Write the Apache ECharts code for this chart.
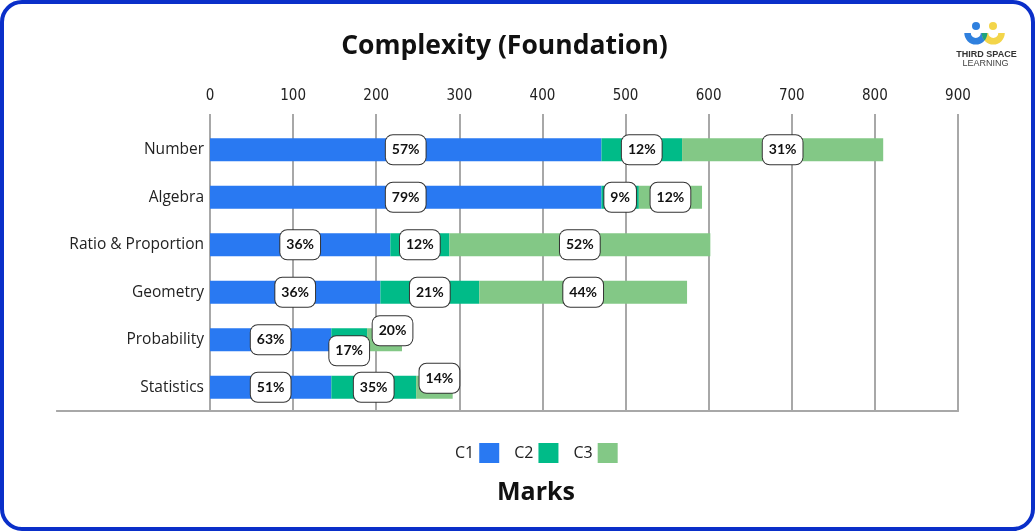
<!DOCTYPE html>
<html>
<head>
<meta charset="utf-8">
<script src="https://cdn.jsdelivr.net/npm/echarts@6/dist/echarts.min.js"></script>
<style>
html,body{margin:0;padding:0;background:#fff;}
#wrap{position:relative;width:1035px;height:531px;overflow:hidden;}
#chart{position:absolute;left:0;top:0;width:1035px;height:531px;}
#frame{position:absolute;left:0;top:0;width:1035px;height:531px;box-sizing:border-box;border:4px solid #0a2fc9;border-radius:22px;pointer-events:none;}
</style>
</head>
<body>
<div id="wrap"><div id="chart"></div><div id="frame"></div></div>
<script>
// ---- data ----
const categories = ['Number', 'Algebra', 'Ratio & Proportion', 'Geometry', 'Probability', 'Statistics'];
const seriesNames = ['C1', 'C2', 'C3'];
const c1Values = [471, 471, 217, 205, 146, 146];
const c2Values = [97, 45, 71, 119, 43, 102];
const c3Values = [242, 76, 314, 250, 42, 44];
const c1Pct = [57, 79, 36, 36, 63, 51];
const c2Pct = [12, 9, 12, 21, 17, 35];
const c3Pct = [31, 12, 52, 44, 20, 14];
const xMin = 0, xMax = 900, xInterval = 100;
const chartTitle = 'Complexity (Foundation)';
const axisTitle = 'Marks';

// ---- styling ----
const colors = ['#2979f2', '#00bb88', '#83c886'];
const gridColor = '#a8a8a8';
const font = '"Open Sans", Lato, "Noto Sans", sans-serif';
const labelFont = 'Lato, "Open Sans", sans-serif';
// label nudges for crowded segments: [category][series] = [dx, dy]
const labelNudge = { 4: { 1: [0, 11], 2: [8, -9] }, 5: { 2: [5, -9] } };

const valueSets = [c1Values, c2Values, c3Values];
const pctSets = [c1Pct, c2Pct, c3Pct];

const series = seriesNames.map((name, s) => ({
  name: name,
  type: 'bar',
  stack: 'total',
  xAxisIndex: 0,
  yAxisIndex: 0,
  barWidth: 23,
  itemStyle: { color: colors[s] },
  data: valueSets[s],
  label: {
    show: true,
    position: 'inside',
    formatter: (p) => pctSets[s][p.dataIndex] + '%',
    fontFamily: labelFont,
    fontWeight: 'bold',
    fontSize: 14,
    lineHeight: 17,
    color: '#111',
    backgroundColor: '#fff',
    borderColor: '#333',
    borderWidth: 1,
    borderRadius: 7,
    padding: [6, 6]
  },
  labelLayout: (p) => {
    const n = labelNudge[p.dataIndex] && labelNudge[p.dataIndex][s];
    return n ? { dx: n[0], dy: n[1], hideOverlap: false } : { hideOverlap: false };
  }
}));

// logo overlap lens (decoration)
function lensPoints() {
  const bx = 975.8, yx = 993.3, cy = 33, r = 11.5;
  const pts = [];
  const half = (yx - bx) / 2;
  const dy = Math.sqrt(r * r - half * half);
  const aY = Math.atan2(dy, -half);
  for (let k = 0; k <= 6; k++) {
    const a = Math.PI - (Math.PI - aY) * k / 6;
    pts.push([yx + r * Math.cos(a), cy + r * Math.sin(a)]);
  }
  const aB = Math.atan2(dy, half);
  for (let k = 0; k <= 6; k++) {
    const a = aB - aB * k / 6;
    pts.push([bx + r * Math.cos(a), cy + r * Math.sin(a)]);
  }
  return pts;
}

const option = {
  backgroundColor: '#fff',
  animation: false,
  legend: {
    data: seriesNames,
    left: 450,
    top: 438,
    align: 'right',
    itemWidth: 20,
    itemHeight: 20,
    itemGap: 15,
    icon: 'rect',
    textStyle: { fontFamily: font, fontSize: 16, color: '#222' }
  },
  grid: [
    { left: 210, right: 77, top: 126, bottom: 120, containLabel: false },
    { left: 57, right: 77, top: 114, bottom: 120, containLabel: false }
  ],
  xAxis: [
    {
      type: 'value', gridIndex: 0, position: 'top', offset: 12,
      min: xMin, max: xMax, interval: xInterval,
      axisLine: { show: false },
      axisTick: { show: true, inside: true, length: 12, lineStyle: { color: gridColor, width: 2 } },
      axisLabel: { margin: 10, fontFamily: '"Liberation Sans Narrow", "DejaVu Sans Condensed", sans-serif', fontSize: 15, color: '#222' },
      splitLine: { show: true, lineStyle: { color: gridColor, width: 2 } }
    },
    {
      type: 'value', gridIndex: 1, position: 'top', min: 0, max: 1,
      axisLine: { show: true, lineStyle: { color: gridColor, width: 2 } },
      axisTick: { show: false }, axisLabel: { show: false }, splitLine: { show: false }
    },
    {
      type: 'value', gridIndex: 1, position: 'bottom', min: 0, max: 1,
      axisLine: { show: true, lineStyle: { color: gridColor, width: 2 } },
      axisTick: { show: false }, axisLabel: { show: false }, splitLine: { show: false }
    }
  ],
  yAxis: [
    {
      type: 'category', gridIndex: 0, data: categories, inverse: true,
      axisLine: { show: false }, axisTick: { show: false },
      axisLabel: { margin: 6, fontFamily: font, fontSize: 15.5, color: '#222' }
    },
    { type: 'value', gridIndex: 1, show: false, min: 0, max: 1 }
  ],
  series: series,
  graphic: [
    { type: 'text', x: 504.5, y: 46, style: { text: chartTitle, fill: '#111', font: 'bold 26.5px ' + font, textAlign: 'center', textVerticalAlign: 'middle' } },
    { type: 'text', x: 536, y: 493, style: { text: axisTitle, fill: '#111', font: 'bold 25px ' + font, textAlign: 'center', textVerticalAlign: 'middle' } },
    // logo
    { type: 'sector', shape: { cx: 975.8, cy: 33, r: 11.5, r0: 5, startAngle: 0, endAngle: Math.PI, clockwise: true }, style: { fill: '#2f80de' } },
    { type: 'sector', shape: { cx: 993.3, cy: 33, r: 11.5, r0: 5, startAngle: 0, endAngle: Math.PI, clockwise: true }, style: { fill: '#f3d54a' } },
    { type: 'polygon', shape: { points: lensPoints() }, style: { fill: '#1ea37c' } },
    { type: 'circle', shape: { cx: 976, cy: 26, r: 4 }, style: { fill: '#2f80de' } },
    { type: 'circle', shape: { cx: 993, cy: 26, r: 4 }, style: { fill: '#f3d54a' } },
    { type: 'text', x: 986.5, y: 55, style: { text: 'THIRD SPACE', fill: '#333', font: 'bold 9px "Liberation Sans", sans-serif', textAlign: 'center', textVerticalAlign: 'middle' } },
    { type: 'text', x: 985.5, y: 64, style: { text: 'LEARNING', fill: '#444', font: '9px "Liberation Sans", sans-serif', textAlign: 'center', textVerticalAlign: 'middle' } }
  ]
};

const chart = echarts.init(document.getElementById('chart'), null, { renderer: 'canvas', width: 1035, height: 531 });
chart.setOption(option);
</script>
</body>
</html>
